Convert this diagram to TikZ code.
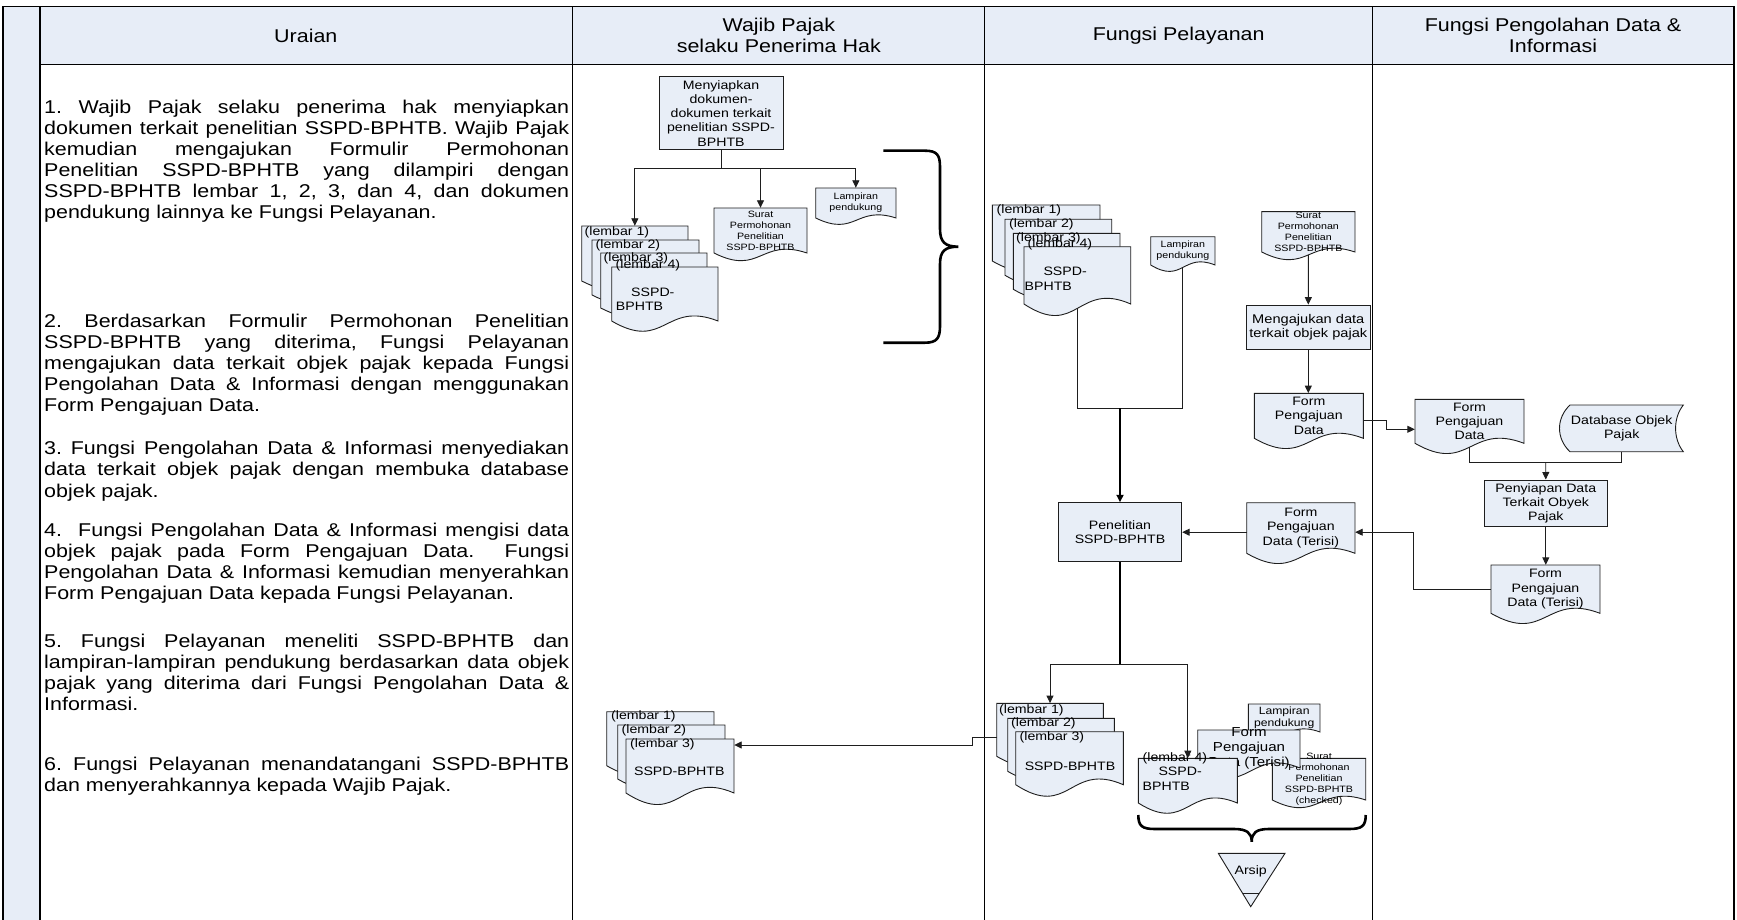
\documentclass[tikz,border=0pt]{standalone}
\usepackage{fontspec}
\setmainfont{Liberation Sans}[FakeStretch=1.16]
\usetikzlibrary{arrows.meta,calc}
\frenchspacing
\definecolor{boxc}{RGB}{232,238,247}
\definecolor{hdrc}{RGB}{231,237,247}
\definecolor{linec}{RGB}{30,30,30}
\newcommand\fsBody{\fontsize{18.5}{21}\selectfont}
\newcommand\fsMid{\fontsize{12.2}{14.2}\selectfont}
\newcommand\fsMidB{\fontsize{12.6}{14.6}\selectfont}
\newcommand\fsForm{\fontsize{13}{15}\selectfont}
\newcommand\fsLam{\fontsize{10.5}{11.6}\selectfont}
\newcommand\fsSmall{\fontsize{9.2}{11}\selectfont}
\tikzset{
  shp/.style={draw=linec, fill=boxc, line width=0.9pt},
  docbox/.style={inner sep=0pt, draw=none, fill=none},
  procbox/.style={shp, inner sep=0pt, align=center, font=\fsMid},
  txt/.style={inner sep=0pt, align=center, font=\fsMid},
  lbl/.style={inner sep=0pt, anchor=west, font=\fsMid},
  conn/.style={draw=linec, line width=0.9pt},
  connthick/.style={draw=black, line width=1.8pt},
  arr/.style={-{Triangle[length=7.5pt,width=7pt]}},
  tbl/.style={draw=black, line width=1.8pt},
  tblthin/.style={draw=black, line width=1.3pt},
  bodyl/.style={anchor=base west, inner sep=0pt, font=\fsBody},
  hdrtxt/.style={align=center, font=\fsBody, inner sep=0pt},
  bracesty/.style={draw=black, line width=2.6pt},
}
% #1 name, #2 L, #3 T, #4 R, #5 B (left end of wave), #6 wave depth
\newcommand\docshape[6]{%
  \pgfmathsetmacro\dM{(#2+#4)/2}%
  \pgfmathsetmacro\dU{#5-2.6*#6}%
  \pgfmathsetmacro\dD{#5+3.9*#6}%
  \pgfmathsetmacro\dW{#4-#2}%
  \pgfmathsetmacro\dH{#5-#3}%
  \pgfmathsetmacro\dC{(#3+#5)/2}%
  \pgfmathsetmacro\dB{#5+0.49*#6}%
  \path[shp] (#2,#3) -- (#4,#3) -- (#4,#5) .. controls (\dM,\dU) and (\dM,\dD) .. (#2,#5) -- cycle;
  \node[docbox, minimum width=\dW pt, minimum height=\dH pt] (#1) at (\dM,\dC) {};
  \coordinate (#1-b) at (\dM,\dB);
}
\begin{document}
\begin{tikzpicture}[x=1pt,y=-1pt]
\useasboundingbox (0,0) rectangle (1737,920);
% ---------- table ----------
\fill[hdrc] (40,6.6) rectangle (1733.7,64.3);
\fill[hdrc] (3.3,6.6) rectangle (40,920);
\draw[tblthin] (40,64.3) -- (1733.7,64.3);
\draw[tblthin] (572.7,6.6) -- (572.7,920);
\draw[tblthin] (984.8,6.6) -- (984.8,920);
\draw[tblthin] (1372.6,6.6) -- (1372.6,920);
\draw[tbl] (40,6.6) -- (40,920);
\draw[tbl] (3.3,920) -- (3.3,6.6) -- (1733.7,6.6) -- (1733.7,920);
\node[hdrtxt] (h1) at (305.8,35.5) {Uraian};
\node[hdrtxt] (h2) at (778.8,35.5) {Wajib Pajak\\selaku Penerima Hak};
\node[hdrtxt] (h3) at (1178.7,35.5) {Fungsi Pelayanan};
\node[hdrtxt] (h4) at (1553,35.5) {Fungsi Pengolahan Data \&\\Informasi};
% ---------- Uraian text ----------
\node[bodyl] (u1) at (44,113.7) {\makebox[525pt][s]{1. Wajib Pajak selaku penerima hak menyiapkan}};
\node[bodyl] (u2) at (44,134.75) {\makebox[525pt][s]{dokumen terkait penelitian SSPD-BPHTB. Wajib Pajak}};
\node[bodyl] (u3) at (44,155.8) {\makebox[525pt][s]{kemudian mengajukan Formulir Permohonan}};
\node[bodyl] (u4) at (44,176.85) {\makebox[525pt][s]{Penelitian SSPD-BPHTB yang dilampiri dengan}};
\node[bodyl] (u5) at (44,197.9) {\makebox[525pt][s]{SSPD-BPHTB lembar 1, 2, 3, dan 4, dan dokumen}};
\node[bodyl] (u6) at (44,218.95) {pendukung lainnya ke Fungsi Pelayanan.};
\node[bodyl] (u7) at (44,327.5) {\makebox[525pt][s]{2. Berdasarkan Formulir Permohonan Penelitian}};
\node[bodyl] (u8) at (44,348.55) {\makebox[525pt][s]{SSPD-BPHTB yang diterima, Fungsi Pelayanan}};
\node[bodyl] (u9) at (44,369.6) {\makebox[525pt][s]{mengajukan data terkait objek pajak kepada Fungsi}};
\node[bodyl] (u10) at (44,390.65) {\makebox[525pt][s]{Pengolahan Data \& Informasi dengan menggunakan}};
\node[bodyl] (u11) at (44,411.7) {Form Pengajuan Data.};
\node[bodyl] (u12) at (44,454.9) {\makebox[525pt][s]{3. Fungsi Pengolahan Data \& Informasi menyediakan}};
\node[bodyl] (u13) at (44,475.95) {\makebox[525pt][s]{data terkait objek pajak dengan membuka database}};
\node[bodyl] (u14) at (44,497.0) {objek pajak.};
\node[bodyl] (u15) at (44,536.8) {\makebox[525pt][s]{4.\ \ Fungsi Pengolahan Data \& Informasi mengisi data}};
\node[bodyl] (u16) at (44,557.85) {\makebox[525pt][s]{objek pajak pada Form Pengajuan Data.\ \ Fungsi}};
\node[bodyl] (u17) at (44,578.9) {\makebox[525pt][s]{Pengolahan Data \& Informasi kemudian menyerahkan}};
\node[bodyl] (u18) at (44,599.95) {Form Pengajuan Data kepada Fungsi Pelayanan.};
\node[bodyl] (u19) at (44,647.6) {\makebox[525pt][s]{5. Fungsi Pelayanan meneliti SSPD-BPHTB dan}};
\node[bodyl] (u20) at (44,668.65) {\makebox[525pt][s]{lampiran-lampiran pendukung berdasarkan data objek}};
\node[bodyl] (u21) at (44,689.7) {\makebox[525pt][s]{pajak yang diterima dari Fungsi Pengolahan Data \&}};
\node[bodyl] (u22) at (44,710.75) {Informasi.};
\node[bodyl] (u23) at (44,770.6) {\makebox[525pt][s]{6. Fungsi Pelayanan menandatangani SSPD-BPHTB}};
\node[bodyl] (u24) at (44,791.65) {dan menyerahkannya kepada Wajib Pajak.};
% ---------- Wajib Pajak column ----------
\node[procbox, minimum width=124pt, minimum height=73.3pt] (siap) at (721,113.3)
  {Menyiapkan\\dokumen-\\dokumen terkait\\penelitian SSPD-\\BPHTB};
\docshape{w1}{581.7}{226}{688}{281}{7}
\node[lbl] (w1t) at (584.5,232.5) {(lembar 1)};
\docshape{w2}{592}{240}{699}{295}{7}
\node[lbl] (w2t) at (595.5,245) {(lembar 2)};
\docshape{w3}{600.7}{253}{707}{308}{7}
\node[lbl] (w3t) at (603.5,258) {(lembar 3)};
\docshape{w4}{611.7}{267}{718}{321}{8}
\node[lbl] (w4t) at (615.5,265.5) {(lembar 4)};
\node[lbl] (w4s) at (631,292) {SSPD-};
\node[lbl] (w4p) at (615.7,306.7) {BPHTB};
\docshape{wsur}{714}{208}{807}{253}{6}
\node[txt,font=\fsSmall] (wsur-t) at (wsur.center) {Surat\\Permohonan\\Penelitian\\SSPD-BPHTB};
\docshape{wlam}{815.7}{188}{896}{218}{5}
\node[txt,font=\fsSmall] (wlam-t) at (wlam.center) {Lampiran\\pendukung};
\coordinate (wj) at (721,168);
\draw[conn] (siap.south) -- (wj);
\draw[conn,arr] (wj) -| (w1.north);
\draw[conn,arr] (wj) -| (wsur.north);
\draw[conn,arr] (wj) -| (wlam.north);
\draw[bracesty] (883.3,150.7) -- (925,150.7) .. controls (937,150.7) and (940,155) .. (940,167)
  -- (940,229) .. controls (940,242) and (945,246.7) .. (958.3,246.7)
  .. controls (945,246.7) and (940,251) .. (940,264) -- (940,326)
  .. controls (940,338) and (937,342.7) .. (925,342.7) -- (883.3,342.7);
% bottom Wajib stack
\docshape{wb1}{606.7}{711.7}{714}{765.7}{8}
\node[lbl] (wb1t) at (611,716) {(lembar 1)};
\docshape{wb2}{617.7}{725}{725}{779}{8}
\node[lbl] (wb2t) at (621.5,730) {(lembar 2)};
\docshape{wb3}{626}{739}{734}{793}{9}
\node[lbl] (wb3t) at (630,744) {(lembar 3)};
\node[txt] (wb3s) at (679.3,771.7) {SSPD-BPHTB};
% ---------- Fungsi Pelayanan ----------
\docshape{p1}{992.3}{205}{1100}{261}{8}
\node[lbl] (p1t) at (996.5,210.5) {(lembar 1)};
\docshape{p2}{1005}{219.3}{1111.7}{275.3}{8}
\node[lbl] (p2t) at (1009,224) {(lembar 2)};
\docshape{p3}{1013.3}{233.3}{1120}{289.3}{8}
\node[lbl] (p3t) at (1016,238) {(lembar 3)};
\docshape{p4}{1024}{246.7}{1130.7}{304}{9}
\node[lbl] (p4t) at (1027.5,244.5) {(lembar 4)};
\node[lbl] (p4s) at (1043.3,271.7) {SSPD-};
\node[lbl] (p4p) at (1024.5,286.7) {BPHTB};
\docshape{plam}{1150.7}{236.7}{1215}{265}{5}
\node[txt,font=\fsSmall] (plam-t) at (plam.center) {Lampiran\\pendukung};
\docshape{psur}{1261.7}{211.7}{1355}{252}{6}
\node[txt,font=\fsSmall] (psur-t) at (psur.center) {Surat\\Permohonan\\Penelitian\\SSPD-BPHTB};
\node[procbox, font=\fsMidB, minimum width=124.7pt, minimum height=44.3pt] (meng) at (1308.3,327.2)
  {Mengajukan data\\terkait objek pajak};
\docshape{fpdP}{1254.3}{393.3}{1363.3}{438.3}{8}
\node[txt] (fpdP-t) at (fpdP.center) {Form\\Pengajuan\\Data};
\node[procbox, minimum width=123.4pt, minimum height=59pt] (pen) at (1120,532.2) {Penelitian\\SSPD-BPHTB};
\docshape{ftP}{1246.7}{502.7}{1355}{553.3}{8}
\node[txt] (ftP-t) at (ftP.center) {Form\\Pengajuan\\Data (Terisi)};
% bottom Pelayanan stack
\docshape{b1}{996.7}{703.3}{1103.3}{756.3}{8}
\node[lbl] (b1t) at (999,710) {(lembar 1)};
\docshape{b2}{1007.7}{718.3}{1114.3}{771.3}{8}
\node[lbl] (b2t) at (1011,723.3) {(lembar 2)};
\docshape{b3}{1015.7}{731.7}{1123.3}{784.7}{9}
\node[lbl] (b3t) at (1019.5,737.3) {(lembar 3)};
\node[txt] (b3s) at (1070,766.7) {SSPD-BPHTB};
\docshape{blam}{1248.3}{704}{1320}{732}{5}
\node[txt,font=\fsLam] (blam-t) at (blam.center) {Lampiran\\pendukung};
\docshape{bsur}{1272.3}{758.3}{1365.7}{800}{6}
\node[txt,font=\fsSmall] (bsur-t) at (1319,779) {Surat\\Permohonan\\Penelitian\\SSPD-BPHTB\\(checked)};
\docshape{bft}{1197.7}{730}{1300}{768}{8}
\node[txt,font=\fsForm] (bft-t) at (1249,748.3) {Form\\Pengajuan\\Data (Terisi)};
\docshape{b4}{1138.3}{758.3}{1237.3}{803}{8}
\node[lbl] (b4t) at (1142.5,758.3) {(lembar 4) -};
\node[lbl] (b4s) at (1158.3,771.7) {SSPD-};
\node[lbl] (b4p) at (1142.5,786.7) {BPHTB};
\draw[bracesty] (1138.3,815) .. controls (1138.3,826) and (1142,829) .. (1155,829) -- (1234,829)
  .. controls (1247,829) and (1251.7,833) .. (1251.7,841.7)
  .. controls (1251.7,833) and (1256,829) .. (1269,829) -- (1349,829)
  .. controls (1362,829) and (1365.7,826) .. (1365.7,815);
\path[shp] (1218.3,853.3) -- (1285,853.3) -- (1250.7,906.7) -- cycle;
\draw[conn] (1242.6,893.3) -- (1259.3,893.3);
\node[txt] (arsip) at (1250.7,871.7) {Arsip};
% ---------- Fungsi Pengolahan ----------
\docshape{fpdO}{1415}{399.3}{1524}{443.3}{8}
\node[txt] (fpdO-t) at (fpdO.center) {Form\\Pengajuan\\Data};
\path[shp] (1570,405) -- (1683.3,405) .. controls (1673,418) and (1673,438.7) .. (1683.3,451.7)
  -- (1570,451.7) .. controls (1556,438.7) and (1556,418) .. (1570,405) -- cycle;
\node[docbox, minimum width=104pt, minimum height=46.7pt, align=center, font=\fsMid] (db) at (1621.7,428.3) {Database Objek\\Pajak};
\node[procbox, minimum width=123pt, minimum height=46.7pt] (prep) at (1545.8,503.3) {Penyiapan Data\\Terkait Obyek\\Pajak};
\docshape{ftO}{1491}{565}{1600}{613.3}{8}
\node[txt] (ftO-t) at (ftO.center) {Form\\Pengajuan\\Data (Terisi)};
% ---------- connectors ----------
\coordinate (pm) at (1120,408.3);
\draw[conn] (p4-b) |- (pm);
\draw[conn] (plam-b) |- (pm);
\draw[connthick,arr] (pm) -- (pen.north);
\draw[conn,arr] (psur-b) -- (meng.north);
\draw[conn,arr] (meng.south) -- (meng.south |- fpdP.north);
\draw[conn,arr] ($(fpdP.east)+(0,5)$) -- ($(fpdP.east)+(23.4,5)$) |- ($(fpdO.west)+(0,8)$);
\coordinate (om) at (1545.7,462.7);
\draw[conn] (fpdO-b) |- (om);
\draw[conn] (db.south) |- (om);
\draw[conn,arr] (om) -- (prep.north);
\draw[conn,arr] (prep.south) -- (prep.south |- ftO.north);
\draw[conn,arr] (ftO.west) -- ++(-77.7,0) |- (ftP.east |- pen.east);
\draw[conn,arr] (ftP.west |- pen.east) -- (pen.east);
\coordinate (bm) at (1120,664);
\draw[connthick] (pen.south) -- (bm);
\draw[conn,arr] (bm) -| (b1.north);
\draw[conn,arr] (bm) -| (b4.north);
\draw[conn,arr] ($(b1.west)+(0,7.5)$) -- ++(-24,0) |- ($(wb3.east)+(0,-21)$);
\end{tikzpicture}
\end{document}
